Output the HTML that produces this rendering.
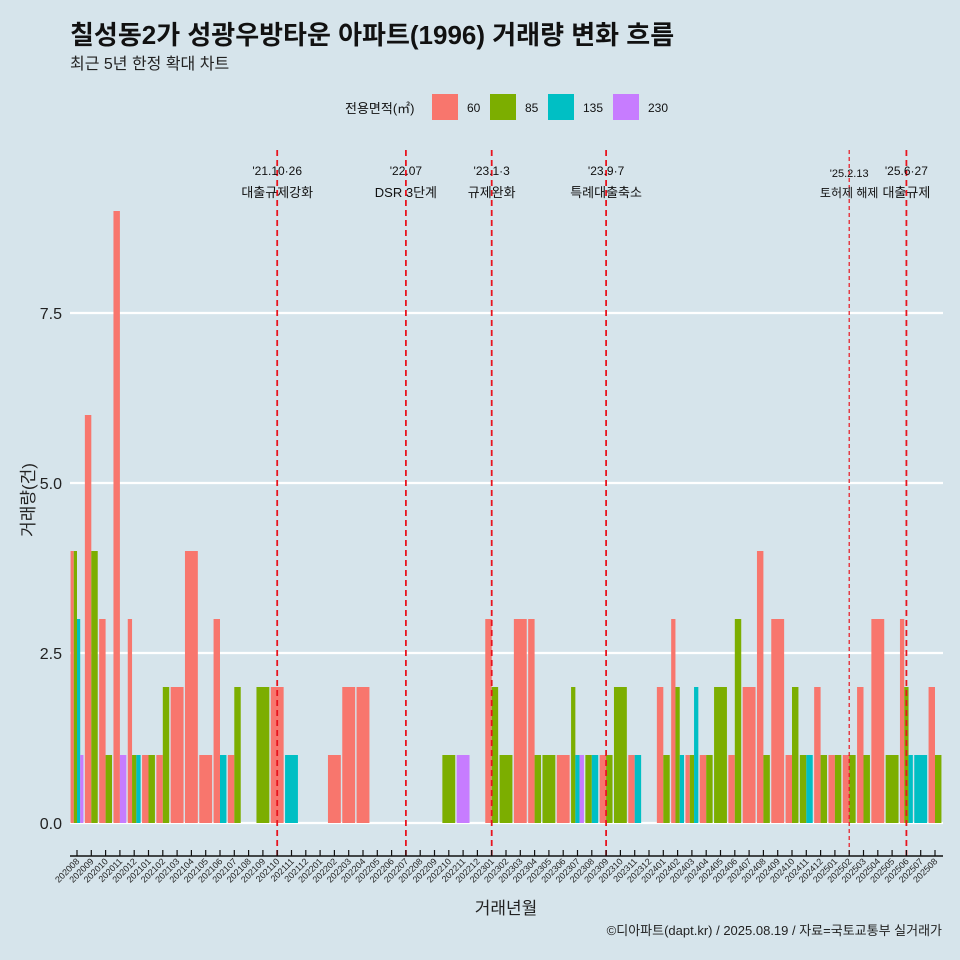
<!DOCTYPE html>
<html><head><meta charset="utf-8"><style>
body{margin:0;background:#d6e4eb;}
svg{display:block;font-family:"Liberation Sans","Noto Sans CJK KR",sans-serif;}
</style></head><body>
<svg id="chart" width="960" height="960" xmlns="http://www.w3.org/2000/svg">
<rect width="960" height="960" fill="#d6e4eb"/>
<text x="70" y="44" font-size="26" font-weight="bold" fill="#111">칠성동2가 성광우방타운 아파트(1996) 거래량 변화 흐름</text>
<text x="70" y="69" font-size="16" fill="#222">최근 5년 한정 확대 차트</text>
<g id="legend"></g>
<g id="grid"></g>
<g id="bars"></g>
<g id="events"></g>
<g id="xaxis"></g>
<g id="yaxis"></g>
<text transform="translate(34,500) rotate(-90)" text-anchor="middle" font-size="17" fill="#222">거래량(건)</text>
<text x="506" y="914" text-anchor="middle" font-size="17" fill="#222">거래년월</text>
<text x="942" y="935" text-anchor="end" font-size="13" fill="#222">©디아파트(dapt.kr) / 2025.08.19 / 자료=국토교통부 실거래가</text>
</svg>
<script>
const months=[];for(let y=2020,m=8;!(y===2025&&m===9);){months.push(''+y+(m<10?'0':'')+m);m++;if(m>12){m=1;y++;}}
const seriesNames=['60','85','135','230'];
const colors=['#f8766d','#7cae00','#00bfc4','#c77cff'];
const s60={'202008':4,'202009':6,'202010':3,'202011':9,'202012':3,'202101':1,'202102':1,'202103':2,'202104':4,'202105':1,'202106':3,'202107':1,'202110':2,'202202':1,'202203':2,'202204':2,'202301':3,'202303':3,'202304':3,'202306':1,'202309':1,'202311':1,'202401':2,'202402':3,'202403':1,'202404':1,'202406':1,'202407':2,'202408':4,'202409':3,'202410':1,'202412':2,'202501':1,'202502':1,'202503':2,'202504':3,'202506':3,'202508':2};
const s85={'202008':4,'202009':4,'202010':1,'202012':1,'202101':1,'202102':2,'202107':2,'202109':2,'202210':1,'202301':2,'202302':1,'202304':1,'202305':1,'202307':2,'202308':1,'202309':1,'202310':2,'202401':1,'202402':2,'202403':1,'202404':1,'202405':2,'202406':3,'202408':1,'202410':2,'202411':1,'202412':1,'202501':1,'202502':1,'202503':1,'202505':1,'202506':2,'202508':1};
const s135={'202008':3,'202012':1,'202106':1,'202111':1,'202307':1,'202308':1,'202311':1,'202402':1,'202403':2,'202411':1,'202506':1,'202507':1};
const s230={'202008':1,'202011':1,'202211':1,'202307':1};
const series=[s60,s85,s135,s230];
const yTicks=[0,2.5,5,7.5];
const yTickLabels=['0.0','2.5','5.0','7.5'];
const eventMonths=['202110','202207','202301','202309','202502','202506'];
const eventLine1=["'21.10·26","'22.07","'23.1·3","'23.9·7","'25.2.13","'25.6·27"];
const eventLine2=['대출규제강화','DSR 3단계','규제완화','특례대출축소','토허제 해제','대출규제'];
const NS='http://www.w3.org/2000/svg';
function mk(tag,attrs,parent){const e=document.createElementNS(NS,tag);for(const k in attrs)e.setAttribute(k,attrs[k]);parent.appendChild(e);return e;}
const step=14.3, x0=77;
const xs=i=>x0+i*step;
const ys=v=>823-v*68;
const grid=document.getElementById('grid'),bars=document.getElementById('bars'),ev=document.getElementById('events'),xa=document.getElementById('xaxis'),ya=document.getElementById('yaxis'),lg=document.getElementById('legend');
yTicks.forEach((t,i)=>{
 const l=mk('line',{x1:70,x2:943,y1:ys(t),y2:ys(t),stroke:'#fff','stroke-width':2.2},grid);
 
 
 const tx=mk('text',{x:62,y:ys(t)+6,'text-anchor':'end','font-size':16,fill:'#222'},ya);
 tx.textContent=yTickLabels[i];
 
 
});
months.forEach((m,i)=>{
 const present=[];series.forEach((s,k)=>{if(s[m])present.push(k);});
 const W=0.9*step;
 present.forEach((k,j)=>{
  const w=W/present.length;const x=xs(i)-W/2+j*w;
  const r=mk('rect',{x:x,y:ys(series[k][m]),width:w,height:ys(0)-ys(series[k][m]),fill:colors[k]},bars);
  
  
 });
 const t=mk('line',{x1:xs(i),x2:xs(i),y1:850,y2:856,stroke:'#111','stroke-width':1.2},xa);
 
 
 const tx=mk('text',{transform:`translate(${xs(i)+3},862) rotate(-45)`,'text-anchor':'end','font-size':9,fill:'#222'},xa);
 tx.textContent=m;
 
 
});
const ax=mk('line',{x1:70,x2:943,y1:856,y2:856,stroke:'#111','stroke-width':1.5},xa);


eventMonths.forEach((m,i)=>{
 const x=xs(months.indexOf(m));
 const thin=(m==='202502');
 const l=mk('line',{x1:x,x2:x,y1:150,y2:856,stroke:'#e8141e','stroke-width':thin?1.2:1.8,'stroke-dasharray':thin?'4 3':'6 4'},ev);
 
 
 const a=mk('text',{x:x,y:thin?177:175,'text-anchor':'middle','font-size':thin?11:12,fill:'#111'},ev);
 a.textContent=eventLine1[i];
 
 
 const b=mk('text',{x:x,y:197,'text-anchor':'middle','font-size':thin?12:13,fill:'#111'},ev);
 b.textContent=eventLine2[i];
 
 
});
const lt=mk('text',{x:345,y:113,'font-size':13,fill:'#111'},lg);
lt.textContent='전용면적(㎡)';


const lx=[432,490,548,613];
seriesNames.forEach((n,k)=>{
 const r=mk('rect',{x:lx[k],y:94,width:26,height:26,fill:colors[k]},lg);
 
 
 const t=mk('text',{x:lx[k]+35,y:112,'font-size':12,fill:'#111'},lg);
 t.textContent=n;
 
 
});
</script>
</body></html>
